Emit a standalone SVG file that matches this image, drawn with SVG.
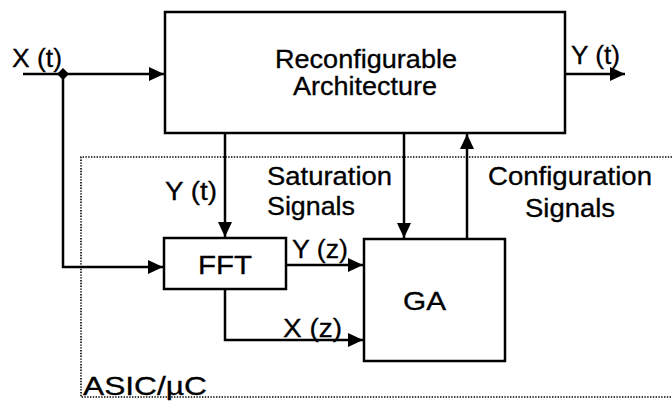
<svg xmlns="http://www.w3.org/2000/svg" width="672" height="402" viewBox="0 0 672 402">
<style>
.box{fill:#fff;stroke:#000;stroke-width:2.5}
.ln{fill:none;stroke:#000;stroke-width:2.5}
.dot{fill:none;stroke:#000;stroke-width:1.6;stroke-dasharray:1.4 1.4}
text{font-family:"Liberation Sans",Arial,sans-serif;font-size:25px;fill:#000;stroke:#000;stroke-width:0.3}
</style>
<defs>
<marker id="ah" markerUnits="userSpaceOnUse" markerWidth="16" markerHeight="16" viewBox="0 0 16 16" refX="15" refY="8" orient="auto">
<path d="M0,1 L15,8 L0,15 Z" fill="#000"/>
</marker>
</defs>
<rect width="672" height="402" fill="#fff"/>
<g id="asic">
<path class="dot" d="M672,157 H81 V397 H672"/>
<text x="83" y="395" textLength="124" lengthAdjust="spacingAndGlyphs">ASIC/µC</text>
</g>
<g id="connectors">
<path class="ln" d="M23,74 H164" marker-end="url(#ah)"/>
<path d="M63,68 L69,74 L63,80 L57,74 Z" fill="#000"/>
<path class="ln" d="M63,74 V267 H163" marker-end="url(#ah)"/>
<path class="ln" d="M565,74 H625" marker-end="url(#ah)"/>
<path class="ln" d="M225,133 V237" marker-end="url(#ah)"/>
<path class="ln" d="M404,133 V238" marker-end="url(#ah)"/>
<path class="ln" d="M467,239 V134" marker-end="url(#ah)"/>
<path class="ln" d="M286,265 H363" marker-end="url(#ah)"/>
<path class="ln" d="M225,289 V340 H363" marker-end="url(#ah)"/>
<text x="12" y="67" textLength="50" lengthAdjust="spacingAndGlyphs">X (t)</text>
<text x="571" y="64" textLength="49" lengthAdjust="spacingAndGlyphs">Y (t)</text>
<text x="165" y="200" textLength="52" lengthAdjust="spacingAndGlyphs">Y (t)</text>
<text x="267" y="185" textLength="125" lengthAdjust="spacingAndGlyphs">Saturation</text>
<text x="267" y="215" textLength="88" lengthAdjust="spacingAndGlyphs">Signals</text>
<text x="488" y="185" textLength="164" lengthAdjust="spacingAndGlyphs">Configuration</text>
<text x="525" y="217" textLength="90" lengthAdjust="spacingAndGlyphs">Signals</text>
<text x="292" y="258" textLength="56" lengthAdjust="spacingAndGlyphs">Y (z)</text>
<text x="283" y="337" textLength="59" lengthAdjust="spacingAndGlyphs">X (z)</text>
</g>
<g id="arch">
<rect class="box" x="165" y="12" width="400" height="121"/>
<text x="275" y="68" font-size="26" textLength="182" lengthAdjust="spacingAndGlyphs">Reconfigurable</text>
<text x="293" y="95" font-size="26" textLength="144" lengthAdjust="spacingAndGlyphs">Architecture</text>
</g>
<g id="fft">
<rect class="box" x="164" y="238" width="122" height="51"/>
<text x="198" y="274" font-size="28" textLength="54" lengthAdjust="spacingAndGlyphs">FFT</text>
</g>
<g id="ga">
<rect class="box" x="364" y="239" width="141" height="122"/>
<text x="403" y="310" font-size="28" textLength="43" lengthAdjust="spacingAndGlyphs">GA</text>
</g>
</svg>
